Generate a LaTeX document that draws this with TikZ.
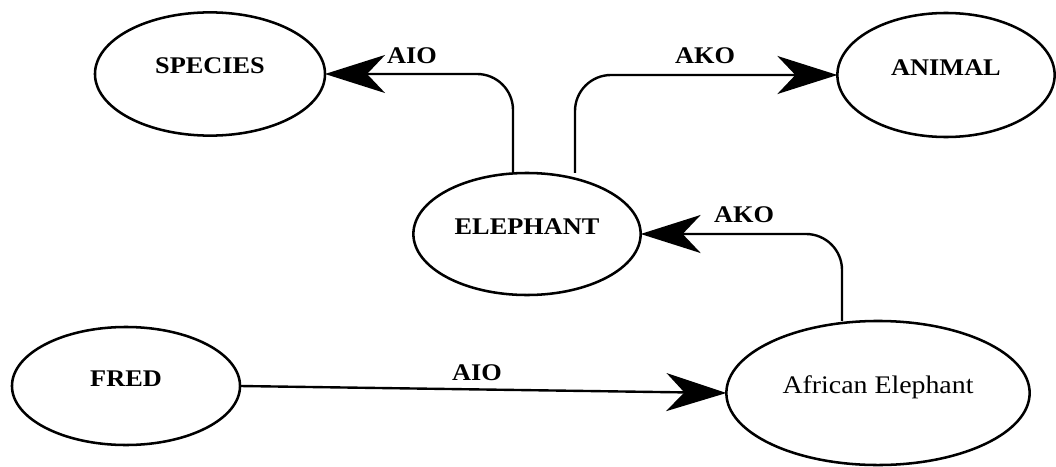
\documentclass[tikz,border=0pt]{standalone}
\usepackage{fontspec}
\setmainfont{Liberation Serif}[FakeStretch=1.1]
\usetikzlibrary{shapes.geometric,arrows.meta,calc}
\begin{document}
\begin{tikzpicture}
[ x=0.025cm, y=-0.025cm, line width=1.7pt
, concept/.style={ellipse, draw, line width=1.8pt, inner sep=0pt, outer sep=0pt, text height=3.9mm, text depth=3.9mm, font=\fontsize{17}{20}\selectfont\bfseries}
, relation/.style={anchor=base, inner sep=0pt, font=\fontsize{17}{20}\selectfont\bfseries}
, link/.style={rounded corners=9mm, -{Stealth[length=15mm, width=9.5mm, inset=4.5mm]}}
]
\useasboundingbox (0,0) rectangle (1056,466);
% Concepts:
\node (species) [concept, minimum width=5.75cm, minimum height=3.08cm] at (210,74) {SPECIES};
\node (animal) [concept, minimum width=5.43cm, minimum height=3.1cm] at (946,75) {ANIMAL};
\node (elephant) [concept, minimum width=5.68cm, minimum height=3.05cm] at (527,234) {ELEPHANT};
\node (fred) [concept, minimum width=5.7cm, minimum height=2.95cm] at (126,386) {FRED};
\node (african) [concept, minimum width=7.58cm, minimum height=3.6cm, font=\fontsize{18}{21}\selectfont] at (878,393) {African Elephant};
% Relations:
\node (aioup) [relation] at (412,63) {AIO};
\node (akoup) [relation] at (705,64) {AKO};
\node (akolow) [relation] at (744,222) {AKO};
\node (aiolow) [relation] at (477,380) {AIO};
\draw [link] ($(elephant.north)+(-14,0)$) |- (species.east);
\draw [link] ($(elephant.north)+(48,0)$) |- (animal.west);
\draw [link] ($(african.north)+(-36,0)$) |- (elephant.east);
\draw [link] (fred.east) -- (african.west);
\end{tikzpicture}
\end{document}
